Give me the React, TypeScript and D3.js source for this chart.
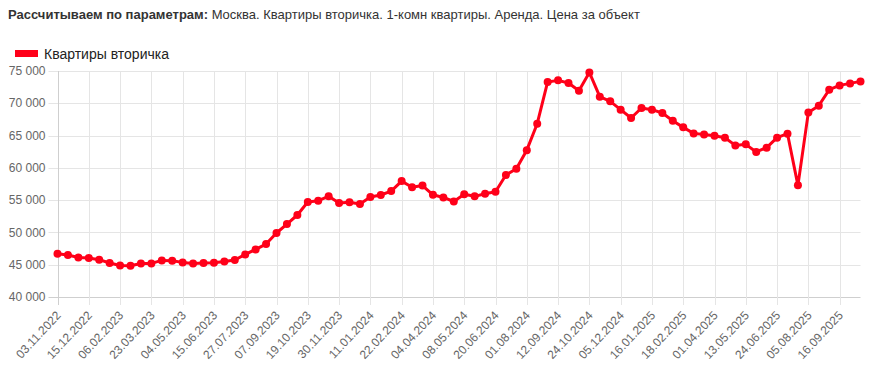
import * as d3 from 'd3';
import React, { useEffect, useRef } from 'react';

// даты выборки (подписаны только каждые три точки)
const dates = [
  '03.11.2022', '17.11.2022', '01.12.2022', '15.12.2022', '29.12.2022', '23.01.2023',
  '06.02.2023', '20.02.2023', '09.03.2023', '23.03.2023', '06.04.2023', '20.04.2023',
  '04.05.2023', '18.05.2023', '01.06.2023', '15.06.2023', '29.06.2023', '13.07.2023',
  '27.07.2023', '10.08.2023', '24.08.2023', '07.09.2023', '21.09.2023', '05.10.2023',
  '19.10.2023', '02.11.2023', '16.11.2023', '30.11.2023', '14.12.2023', '28.12.2023',
  '11.01.2024', '25.01.2024', '08.02.2024', '22.02.2024', '07.03.2024', '21.03.2024',
  '04.04.2024', '18.04.2024', '24.04.2024', '08.05.2024', '22.05.2024', '05.06.2024',
  '20.06.2024', '04.07.2024', '18.07.2024', '01.08.2024', '15.08.2024', '29.08.2024',
  '12.09.2024', '26.09.2024', '10.10.2024', '24.10.2024', '07.11.2024', '21.11.2024',
  '05.12.2024', '19.12.2024', '02.01.2025', '16.01.2025', '28.01.2025', '07.02.2025',
  '18.02.2025', '04.03.2025', '18.03.2025', '01.04.2025', '15.04.2025', '29.04.2025',
  '13.05.2025', '27.05.2025', '10.06.2025', '24.06.2025', '08.07.2025', '22.07.2025',
  '05.08.2025', '19.08.2025', '02.09.2025', '16.09.2025', '30.09.2025', '14.10.2025',
];

// Квартиры вторичка, руб.
const prices = [
  46700, 46500, 46130, 46040, 45780, 45260, 44890, 44850, 45200, 45200, 45670, 45620,
  45360, 45200, 45250, 45300, 45510, 45730, 46600, 47370, 48200, 49910, 51300, 52700,
  54720, 54920, 55590, 54560, 54660, 54400, 55500, 55800, 56400, 57950, 57000, 57260,
  55830, 55420, 54790, 55900, 55590, 56000, 56300, 58900, 59850, 62740, 66840, 73300,
  73550, 73140, 71950, 74780, 71020, 70300, 69010, 67720, 69270, 69010, 68500, 67300,
  66270, 65340, 65180, 64980, 64670, 63480, 63640, 62460, 63130, 64670, 65290, 57290,
  68590, 69630, 72100, 72770, 73080, 73390,
];

const yTicks = [40000, 45000, 50000, 55000, 60000, 65000, 70000, 75000];

const seriesName = 'Квартиры вторичка';
const titleBold = 'Рассчитываем по параметрам:';
const titleRest = ' Москва. Квартиры вторичка. 1-комн квартиры. Аренда. Цена за объект';

const RED = '#ff0019';
const FONT = 'Arial, "Liberation Sans", Helvetica, sans-serif';

export default function App() {
  const ref = useRef<SVGSVGElement>(null);

  useEffect(() => {
    const svg = d3.select(ref.current);
    svg.selectAll('*').remove();

    const width = 872;
    const height = 384;
    const margin = { top: 71, right: 11.5, bottom: 87, left: 57.5 };

    const x = d3
      .scalePoint<string>()
      .domain(dates)
      .range([margin.left, width - margin.right]);
    const y = d3
      .scaleLinear()
      .domain([40000, 75000])
      .range([height - margin.bottom, margin.top]);

    const fmt = d3.formatLocale({
      decimal: ',',
      thousands: ' ',
      grouping: [3],
      currency: ['', ''],
    }).format(',');

    // title
    const title = svg
      .append('text')
      .attr('x', 8)
      .attr('y', 19)
      .attr('font-family', FONT)
      .attr('font-size', 13)
      .attr('fill', '#333');
    title.append('tspan').attr('font-weight', 'bold').text(titleBold);
    title.append('tspan').text(titleRest);

    // legend
    svg
      .append('rect')
      .attr('x', 15)
      .attr('y', 50)
      .attr('width', 23)
      .attr('height', 7)
      .attr('fill', RED);
    svg
      .append('text')
      .attr('x', 44)
      .attr('y', 58.5)
      .attr('font-family', FONT)
      .attr('font-size', 14)
      .attr('fill', '#222')
      .text(seriesName);

    // horizontal grid + y axis
    const yAxis = svg.append('g').attr('class', 'y-axis');
    yAxis
      .selectAll('line')
      .data(yTicks)
      .join('line')
      .attr('x1', margin.left - 9)
      .attr('x2', width - margin.right)
      .attr('y1', (d) => Math.round(y(d)) + 0.5)
      .attr('y2', (d) => Math.round(y(d)) + 0.5)
      .attr('stroke', (d) => (d === 40000 ? '#cfcfcf' : '#e5e5e5'));
    yAxis
      .selectAll('text')
      .data(yTicks)
      .join('text')
      .attr('x', margin.left - 12)
      .attr('y', (d) => y(d))
      .attr('dy', '0.35em')
      .attr('text-anchor', 'end')
      .attr('font-family', FONT)
      .attr('font-size', 12)
      .attr('fill', '#666')
      .text((d) => fmt(d));

    // vertical grid + x axis labels (every third date)
    const shown = dates.filter((_, i) => i % 3 === 0);
    const xAxis = svg.append('g').attr('class', 'x-axis');
    xAxis
      .selectAll('line')
      .data(shown)
      .join('line')
      .attr('x1', (d) => Math.round(x(d)!) + 0.5)
      .attr('x2', (d) => Math.round(x(d)!) + 0.5)
      .attr('y1', margin.top)
      .attr('y2', height - margin.bottom + 8)
      .attr('stroke', (d, i) => (i === 0 ? '#cfcfcf' : '#e5e5e5'));
    xAxis
      .selectAll('text')
      .data(shown)
      .join('text')
      .attr('transform', (d) => `translate(${x(d)! + 1},${height - margin.bottom + 16}) rotate(-47)`)
      .attr('dy', '0.35em')
      .attr('text-anchor', 'end')
      .attr('font-family', FONT)
      .attr('font-size', 12)
      .attr('fill', '#666')
      .text((d) => d);

    // series
    const line = d3
      .line<number>()
      .x((_, i) => x(dates[i])!)
      .y((d) => y(d));
    const plot = svg.append('g').attr('class', 'plot-area');
    plot
      .append('path')
      .datum(prices)
      .attr('d', line)
      .attr('fill', 'none')
      .attr('stroke', RED)
      .attr('stroke-width', 3)
      .attr('stroke-linejoin', 'round');
    plot
      .selectAll('circle')
      .data(prices)
      .join('circle')
      .attr('cx', (_, i) => x(dates[i])!)
      .attr('cy', (d) => y(d))
      .attr('r', 4)
      .attr('fill', RED);
  }, []);

  return (
    <svg
      ref={ref}
      width={872}
      height={384}
      style={{ position: 'absolute', left: 0, top: 0, background: '#fff' }}
    />
  );
}
